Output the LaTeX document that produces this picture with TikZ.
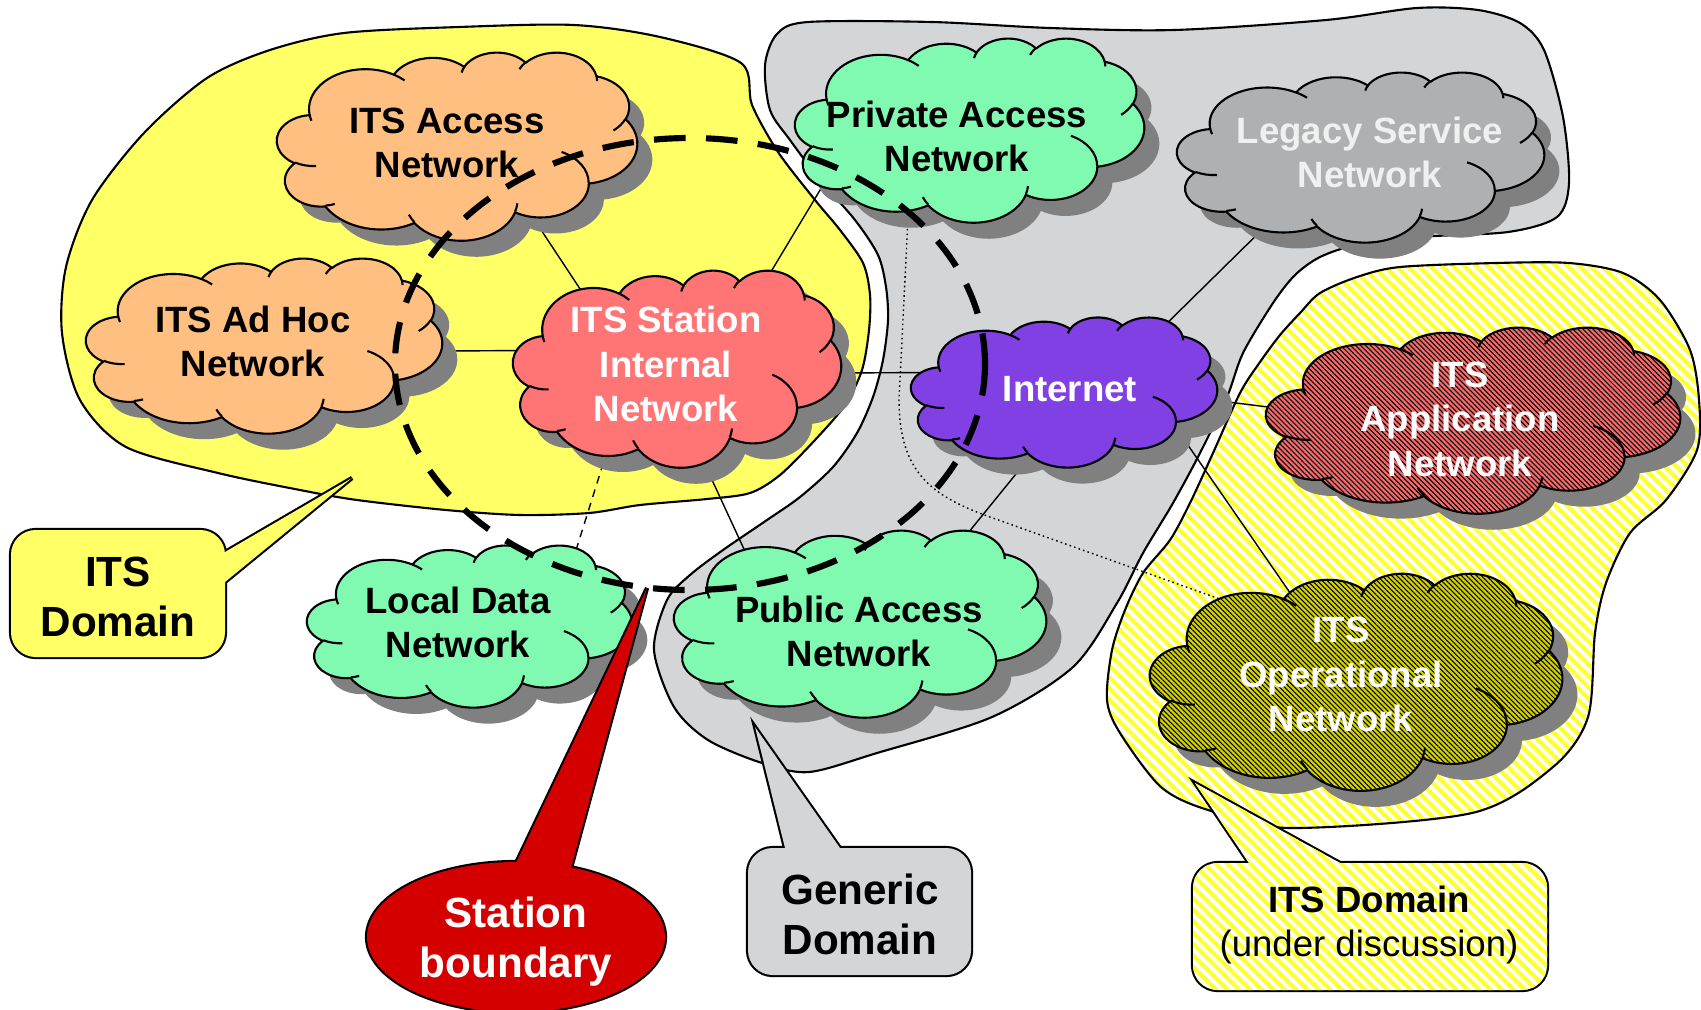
\documentclass[tikz,border=0pt]{standalone}
\usepackage{fontspec}
\setmainfont{Liberation Sans}
\usetikzlibrary{shapes.geometric,patterns.meta}

\definecolor{domyellow}{RGB}{255,255,102}
\definecolor{domgrey}{RGB}{212,213,215}
\definecolor{hatchyellow}{RGB}{255,255,50}
\definecolor{peach}{RGB}{255,191,128}
\definecolor{stationred}{RGB}{255,116,116}
\definecolor{mint}{RGB}{128,250,176}
\definecolor{legacygrey}{RGB}{174,176,178}
\definecolor{netpurple}{RGB}{128,64,228}
\definecolor{appred}{RGB}{245,106,106}
\definecolor{opolive}{RGB}{210,210,0}
\definecolor{calloutred}{RGB}{212,0,0}
\definecolor{shadowgrey}{RGB}{128,128,128}

\pgfdeclarelayer{regions}
\pgfdeclarelayer{links}
\pgfsetlayers{regions,links,main}

% Cloud outline built from elliptic arcs on a 43.2 x 43.2 grid.
% Each arc is given by its radii, its geometric start angle and its sweep;
% the parametric angles used by TikZ are computed here.
\newcommand\defcloudarc[5]{%
  \pgfmathsetmacro\cloudS{atan2((#2)*sin(#4),(#3)*cos(#4))}%
  \pgfmathsetmacro\cloudE{atan2((#2)*sin(#4+#5),(#3)*cos(#4+#5))}%
  \pgfmathsetmacro\cloudE{\cloudS+mod(\cloudE-\cloudS+720,360)}%
  \expandafter\edef\csname #1\endcsname{arc[x radius=#2, y radius=#3, start angle=\cloudS, end angle=\cloudE]}%
}
% outer puffs
\defcloudarc{cldA}{6.753}{9.190}{-190.4875}{123.7805}
\defcloudarc{cldB}{5.333}{7.267}{-144.1024}{89.9452}
\defcloudarc{cldC}{4.365}{5.945}{-145.8079}{99.7230}
\defcloudarc{cldD}{4.857}{6.595}{-130.9861}{117.2417}
\defcloudarc{cldE}{5.333}{7.273}{-78.7089}{109.0269}
\defcloudarc{cldF}{6.775}{9.220}{-46.2673}{130.2690}
\defcloudarc{cldG}{5.785}{7.867}{0.6250}{114.0333}
\defcloudarc{cldH}{6.752}{9.215}{22.4516}{115.1726}
\defcloudarc{cldI}{7.720}{10.543}{66.2426}{75.7110}
\defcloudarc{cldJ}{4.360}{5.918}{-274.9421}{146.7356}
\defcloudarc{cldK}{4.345}{5.945}{-246.8285}{152.5189}
% short inner creases between the puffs
\defcloudarc{crsA}{4.345}{5.945}{86.7420}{26.4295}
\defcloudarc{crsB}{4.360}{5.918}{73.6105}{11.4475}
\defcloudarc{crsC}{6.752}{9.215}{137.6242}{14.0811}
\defcloudarc{crsD}{6.752}{9.215}{6.4533}{15.9984}
\defcloudarc{crsE}{5.785}{7.867}{-70.2924}{70.9174}
\defcloudarc{crsF}{5.333}{7.273}{30.3180}{27.7515}
\defcloudarc{crsG}{4.857}{6.595}{-13.7443}{14.8589}
\defcloudarc{crsH}{4.857}{6.595}{-149.1815}{18.1954}
\defcloudarc{crsI}{4.365}{5.945}{-163.4943}{17.6864}
\defcloudarc{crsJ}{6.753}{9.190}{-66.7070}{12.3194}
\defcloudarc{crsK}{6.753}{9.190}{157.6544}{11.8582}

\newcommand\cloudoutline{(3.900,14.370) \cldA \cldB \cldC \cldD \cldE \cldF \cldG \cldH \cldI \cldJ \cldK -- cycle}
\newcommand\cloudcreases{(4.693,26.177) \crsA (6.928,34.899) \crsB (16.478,39.090) \crsC
  (28.827,34.751) \crsD (34.129,22.954) \crsE (41.798,15.354) \crsF (38.324,5.426) \crsG
  (29.078,3.952) \crsH (22.141,4.720) \crsI (14.000,5.192) \crsJ (4.127,15.789) \crsK}

% #1,#2 top-left corner, #3 width, #4 height (all in px), #5 fill options
\newcommand\netcloud[5]{%
  \begin{scope}[shift={(#1+15,#2+16)}, x={#3/4320*1cm}, y={-#4/4320*1cm}]
    \fill[shadowgrey] \cloudoutline;
  \end{scope}
  \begin{scope}[shift={(#1,#2)}, x={#3/4320*1cm}, y={-#4/4320*1cm}]
    \draw[cloudline,#5] \cloudoutline;
    \draw[cloudline] \cloudcreases;
  \end{scope}}

\tikzset{
  cloudline/.style={draw=black, line width=0.6pt, line join=round},
  cloudlabel/.style={ellipse, inner sep=-50pt, outer sep=0pt, align=center,
    font=\fontsize{10.4}{12.6}\selectfont\bfseries, text depth=0pt},
  apphatch/.style={preaction={fill=appred}, pattern={Lines[angle=-45,distance=1.0pt,line width=0.3pt]}, pattern color=black},
  ophatch/.style={preaction={fill=opolive}, pattern={Lines[angle=-45,distance=1.0pt,line width=0.3pt]}, pattern color=black},
  domainhatch/.style={pattern={Lines[angle=-45,distance=2.3pt,line width=1.2pt]}, pattern color=hatchyellow},
  domainline/.style={draw=black, line width=0.6pt},
  link/.style={draw=black, line width=0.4pt},
  linkdashed/.style={link, dash pattern=on 2.2pt off 1.8pt},
  linkdotted/.style={link, dash pattern=on 0.45pt off 0.9pt},
  boundaryline/.style={draw=black, line width=1.75pt, dash pattern=on 9pt off 5.8pt},
  calloutstroke/.style={draw=black, line width=1.2pt},
  callouttext/.style={align=center, inner sep=0pt, text depth=0pt,
    font=\fontsize{12}{14.2}\selectfont\bfseries},
}

\begin{document}
\begin{tikzpicture}[x=0.01cm, y=-0.01cm]
\useasboundingbox (0,0) rectangle (1701,1009);

% ---------------- domains ----------------
\begin{pgfonlayer}{regions}
  \draw[domainline, fill=domyellow] plot[smooth cycle, tension=0.5] coordinates {
    (62,333) (66,267) (92,200) (144,133) (207,78) (270,50) (344,33) (459,27) (574,25)
    (660,37) (741,63) (752,105) (778,152) (815,200) (840,230) (863,263) (870,295)
    (869,330) (862,370) (845,405) (815,440) (780,475) (750,493) (707,499) (640,505)
    (589,513) (520,515) (446,510) (357,500) (300,490) (218,473) (126,447) (80,400)};
  \draw[domainline, fill=domgrey] plot[smooth cycle, tension=0.5] coordinates {
    (770,110) (765,65) (777,34) (808,22) (932,22) (1050,28) (1174,30) (1326,20)
    (1417,8) (1478,10) (1520,23) (1544,50) (1563,117) (1569,183) (1557,217) (1508,232)
    (1417,237) (1356,245) (1320,257) (1295,275) (1273,303) (1243,353) (1227,397)
    (1200,453) (1173,503) (1143,553) (1117,603) (1073,667) (992,717) (877,753)
    (809,772) (762,763) (708,740) (674,707) (654,650) (667,600) (690,575) (723,550)
    (767,520) (800,497) (833,467) (857,433) (873,397) (883,360) (888,320) (886,287)
    (878,255) (855,220) (820,180) (790,140)};
  \draw[domainline, preaction={fill=white}, domainhatch] plot[smooth cycle, tension=0.5] coordinates {
    (1240,393) (1260,362) (1280,335) (1300,313) (1320,293) (1357,277) (1400,267)
    (1496,263) (1569,263) (1623,273) (1660,300) (1690,350) (1699,400) (1697,450)
    (1666,500) (1630,533) (1606,583) (1595,633) (1588,717) (1553,767) (1472,813)
    (1290,828) (1208,810) (1161,787) (1120,733) (1107,700) (1112,650) (1125,610)
    (1143,573) (1170,540) (1190,503) (1213,453)};
\end{pgfonlayer}

% ---------------- networks ----------------
\netcloud{277}{52}{360}{188}{fill=peach}
\netcloud{86}{258}{356}{175}{fill=peach}
\netcloud{513}{270}{328}{197}{fill=stationred}
\netcloud{795}{38}{349}{184}{fill=mint}
\netcloud{1177}{72}{367}{170}{fill=legacygrey}
\netcloud{911}{317}{306}{150}{fill=netpurple}
\netcloud{1266}{327}{414}{186}{apphatch}
\netcloud{1150}{573}{412}{217}{ophatch}
\netcloud{307}{545}{325}{162}{fill=mint}
\netcloud{674}{530}{372}{187}{fill=mint}

\node[cloudlabel, minimum width=2.88cm, minimum height=1.504cm] (access) at (447,142.5) {ITS Access\\Network};
\node[cloudlabel, minimum width=2.848cm, minimum height=1.4cm] (adhoc) at (253,341.5) {ITS Ad Hoc\\Network};
\node[cloudlabel, text=white, minimum width=2.624cm, minimum height=1.576cm] (station) at (666,364) {ITS Station\\Internal\\Network};
\node[cloudlabel, minimum width=2.792cm, minimum height=1.472cm] (private) at (957,136) {Private Access\\Network};
\node[cloudlabel, text=white!94!black, minimum width=2.936cm, minimum height=1.36cm] (legacy) at (1370,152) {Legacy Service\\Network};
\node[cloudlabel, text=white, minimum width=2.448cm, minimum height=1.2cm] (internet) at (1070,389) {Internet};
\node[cloudlabel, text=white, minimum width=3.312cm, minimum height=1.488cm] (app) at (1460,419) {ITS\\Application\\Network};
\node[cloudlabel, text=white, minimum width=3.296cm, minimum height=1.736cm] (op) at (1341,674.5) {ITS\\Operational\\Network};
\node[cloudlabel, minimum width=2.6cm, minimum height=1.296cm] (local) at (458,622) {Local Data\\Network};
\node[cloudlabel, minimum width=2.976cm, minimum height=1.496cm] (public) at (859,631) {Public Access\\Network};

% ---------------- links ----------------
\begin{pgfonlayer}{links}
  \draw[link] (access.-39) -- (station.141);
  \draw[link] (adhoc.-4) -- (station.174);
  \draw[link] (station.35) -- (private.-165);
  \draw[link] (station.-4) -- (internet.172);
  \draw[linkdashed] (station.-127) -- (local.19);
  \draw[link] (station.-70) -- (public.152);
  \draw[link] (legacy.-147) -- (internet.31);
  \draw[link] (internet.-119) -- (public.38);
  \draw[link] (internet.-4) -- (app.177);
  \draw[link] (internet.-18) -- (op.122);
  \draw[linkdotted] (private.-125) -- (899,400) .. controls (899,475) and (935,497) .. (990,517) -- (op.146);
\end{pgfonlayer}

% ---------------- station boundary ----------------
\draw[boundaryline] (690,364) ellipse[x radius=295, y radius=226];

% ---------------- callouts ----------------
% ITS Domain
\draw[calloutstroke, rounded corners=7pt] (11,530) rectangle (225,657);
\draw[calloutstroke] (225,552) -- (352,478) -- (225,582);
\fill[domyellow, rounded corners=7pt] (11,530) rectangle (225,657);
\fill[domyellow] (220.7,554.5) -- (352,478) -- (221.1,585.2) -- cycle;
\node[callouttext] (itsdomain) at (118,596.5) {ITS\\Domain};

% Station boundary
\draw[calloutstroke] (516,937) ellipse[x radius=149, y radius=75];
\draw[calloutstroke] (516,863) -- (647,588) -- (571,868);
\fill[calloutred] (516,937) ellipse[x radius=149, y radius=75];
\fill[calloutred] (513.4,868.4) -- (647,588) -- (569.4,873.8) -- cycle;
\node[callouttext, text=white] (boundary) at (516,937.5) {Station\\boundary};

% Generic Domain
\draw[calloutstroke, rounded corners=7pt] (748,848) rectangle (971,975);
\draw[calloutstroke] (785,848) -- (755,727) -- (840,848);
\fill[domgrey, rounded corners=7pt] (748,848) rectangle (971,975);
\fill[domgrey] (786.2,852.9) -- (755,727) -- (842.9,852.1) -- cycle;
\node[callouttext] (generic) at (860,914.5) {Generic\\Domain};

% ITS Domain (under discussion)
\draw[calloutstroke, rounded corners=7pt] (1193,863) rectangle (1547,990);
\draw[calloutstroke] (1249,863) -- (1195,783) -- (1340,863);
\fill[white, rounded corners=7pt] (1193,863) rectangle (1547,990);
\fill[white] (1252.4,868) -- (1195,783) -- (1345.3,865.9) -- cycle;
\fill[domainhatch, rounded corners=7pt] (1193,863) rectangle (1547,990);
\fill[domainhatch] (1252.4,868) -- (1195,783) -- (1345.3,865.9) -- cycle;
\node[align=center, inner sep=0pt, text depth=0pt, font=\fontsize{10.4}{12.5}\selectfont]
  (discussion) at (1369,921.5) {\textbf{ITS Domain}\\(under discussion)};

\end{tikzpicture}
\end{document}
